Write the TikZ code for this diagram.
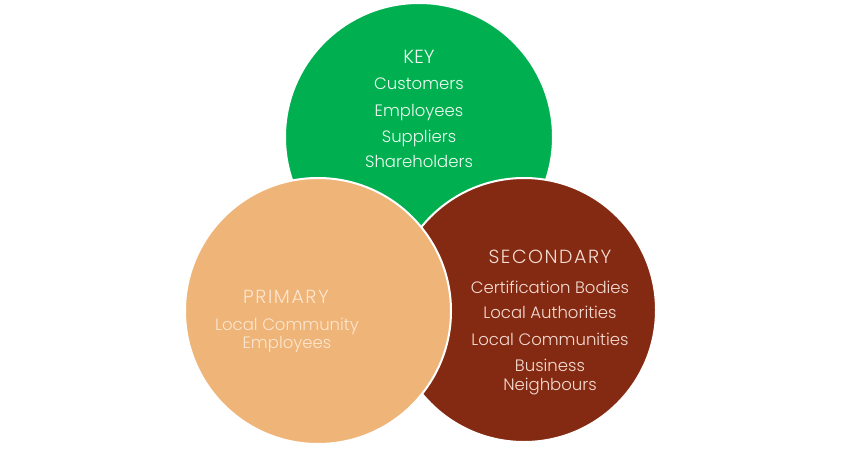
\documentclass[tikz,border=0pt]{standalone}
\usepackage{fontspec}
\setmainfont{Poppins Light}
\definecolor{keygreen}{HTML}{00B050}
\definecolor{primtan}{HTML}{EFB478}
\definecolor{secbrown}{HTML}{852A12}
\definecolor{greentext}{HTML}{EEFAF1}
\definecolor{tantext}{HTML}{FCE6CF}
\definecolor{browntext}{HTML}{F4DCD3}
\begin{document}
\begin{tikzpicture}[x=1pt,y=-1pt,
  venn/.style={draw=white,line width=2pt},
  head/.style={anchor=base,inner sep=0pt,font=\fontsize{19}{22}\selectfont\addfontfeatures{LetterSpace=8}},
  keyhead/.style={anchor=base,inner sep=0pt,font=\fontsize{19}{22}\selectfont},
  item/.style={anchor=base,inner sep=0pt,font=\fontsize{16.5}{19}\selectfont}]
\useasboundingbox (0,0) rectangle (849,450);
\fill[white] (0,0) rectangle (849,450);
\path[venn,fill=keygreen] (419,137) circle[radius=134];
\path[venn,fill=secbrown] (524,310) circle[radius=132];
\path[venn,fill=primtan] (318,311) circle[radius=133];
% key
\begin{scope}[text=greentext]
\node[keyhead] (key) at (419,63) {KEY};
\node[item] (k1) at (419,89) {Customers};
\node[item] (k2) at (419,116) {Employees};
\node[item] (k3) at (419,142) {Suppliers};
\node[item] (k4) at (419,167) {Shareholders};
\end{scope}
% secondary
\begin{scope}[text=browntext]
\node[head] (sec) at (550,263) {SECONDARY};
\node[item] (s1) at (550,293) {Certification Bodies};
\node[item] (s2) at (550,318) {Local Authorities};
\node[item] (s3) at (550,345) {Local Communities};
\node[item] (s4) at (550,371) {Business};
\node[item] (s5) at (550,390) {Neighbours};
\end{scope}
% primary
\begin{scope}[text=tantext]
\node[head] (prim) at (286,303) {PRIMARY};
\node[item] (p1) at (287,330) {Local Community};
\node[item] (p2) at (287,348) {Employees};
\end{scope}
\end{tikzpicture}
\end{document}
